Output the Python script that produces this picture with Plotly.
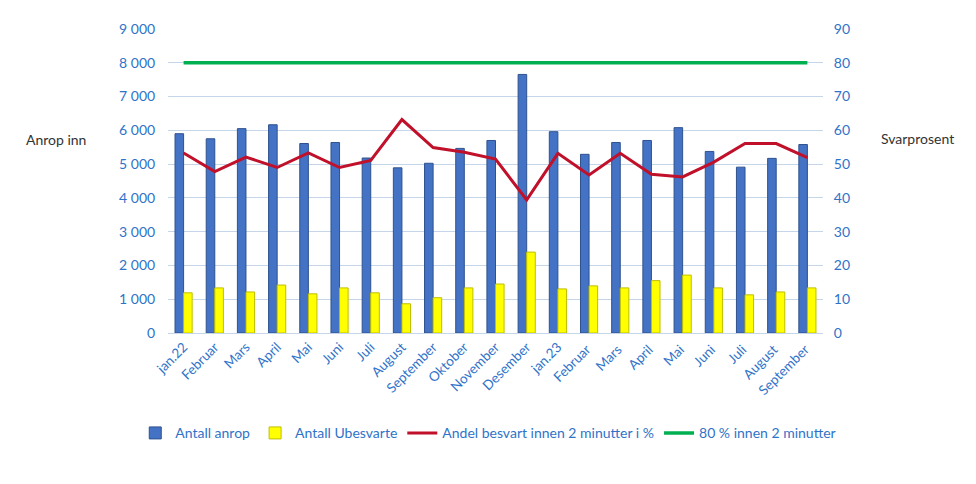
import plotly.graph_objects as go

months = ["jan.22", "Februar", "Mars", "April", "Mai", "Juni", "Juli", "August",
          "September", "Oktober", "November", "Desember", "jan.23", "Februar ", "Mars ",
          "April ", "Mai ", "Juni ", "Juli ", "August ", "September "]

antall_anrop = [5900, 5750, 6050, 6165, 5610, 5640, 5180, 4890, 5025, 5465, 5700,
                7655, 5960, 5290, 5640, 5700, 6080, 5375, 4910, 5170, 5580]
antall_ubesvarte = [1190, 1335, 1215, 1420, 1160, 1335, 1190, 865, 1045, 1335, 1450,
                    2395, 1305, 1395, 1335, 1550, 1715, 1335, 1130, 1215, 1335]
andel_besvart = [53.3, 47.8, 52.1, 49.0, 53.3, 49.0, 51.1, 63.2, 54.9, 53.5, 51.5,
                 39.4, 53.2, 46.8, 53.2, 47.0, 46.2, 50.6, 56.1, 56.1, 51.9]
maal = [80] * len(months)

tick_color = "#2f73c9"
font_family = "Lato, 'Open Sans', sans-serif"

fig = go.Figure()
fig.add_trace(go.Bar(x=months, y=antall_anrop, name="Antall anrop",
                     marker=dict(color="#4472C4", line=dict(color="#2F528F", width=1))))
fig.add_trace(go.Bar(x=months, y=antall_ubesvarte, name="Antall Ubesvarte",
                     marker=dict(color="#FFFF00", line=dict(color="#BFBF00", width=1))))
fig.add_trace(go.Scatter(x=months, y=andel_besvart, name="Andel besvart innen 2 minutter i %",
                         mode="lines", line=dict(color="#C0102A", width=3), yaxis="y2"))
fig.add_trace(go.Scatter(x=months, y=maal, name="80 % innen 2 minutter",
                         mode="lines", line=dict(color="#00B050", width=3.5), yaxis="y2"))

fig.update_layout(
    width=976, height=484,
    margin=dict(l=160, r=161, t=17, b=159),
    paper_bgcolor="white", plot_bgcolor="white",
    separators=", ",
    font=dict(family=font_family, size=14, color=tick_color),
    barmode="group", bargap=0.45, bargroupgap=0,
    showlegend=True,
    legend=dict(orientation="h", x=-0.05, y=-0.33, xanchor="left", yanchor="middle",
                font=dict(size=14, color=tick_color), traceorder="normal",
                itemwidth=30, bgcolor="rgba(0,0,0,0)"),
    xaxis=dict(tickangle=-45, tickfont=dict(size=13.5, color=tick_color),
               showgrid=False, showline=True, linecolor="#c5d5ea", ticks=""),
    yaxis=dict(range=[0, 9000], dtick=1000, tickformat=",d", showgrid=True,
               gridcolor="#c5d5ea", zeroline=False, ticks="outside", ticklen=9,
               tickcolor="white", tickfont=dict(size=14, color=tick_color)),
    yaxis2=dict(range=[0, 90], dtick=10, overlaying="y", side="right", showgrid=False,
                zeroline=False, ticks="outside", ticklen=7, tickcolor="white",
                tickfont=dict(size=14, color=tick_color)),
    annotations=[
        dict(text="Anrop inn", x=-0.171, y=0.636, xref="paper", yref="paper",
             xanchor="center", yanchor="middle",
             showarrow=False, font=dict(size=14, color="#333333")),
        dict(text="Svarprosent", x=1.144, y=0.64, xref="paper", yref="paper",
             xanchor="center", yanchor="middle",
             showarrow=False, font=dict(size=14, color="#333333")),
    ],
)

fig.write_html("out.html")
